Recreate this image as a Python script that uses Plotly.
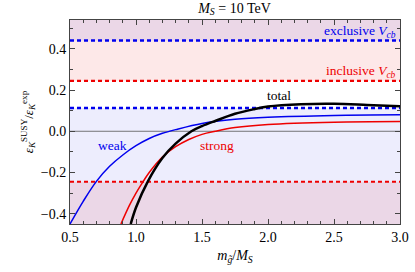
import plotly.graph_objects as go

# Data
weak_x = [0.5, 0.6, 0.7, 0.8, 0.9, 1.0, 1.1, 1.2, 1.3, 1.5, 1.75, 2.0, 2.5, 3.0]
weak_y = [-0.45, -0.34, -0.243, -0.17, -0.115, -0.07, -0.035, -0.01, 0.008, 0.038, 0.058, 0.068, 0.077, 0.08]

strong_x = [0.886, 0.95, 1.0, 1.055, 1.1, 1.2, 1.3, 1.4, 1.5, 1.6, 1.75, 2.0, 2.5, 3.0]
strong_y = [-0.45, -0.36, -0.3, -0.243, -0.2, -0.125, -0.075, -0.04, -0.015, 0.0, 0.018, 0.033, 0.044, 0.047]

total_x = [0.96, 1.0, 1.09, 1.2, 1.3, 1.42, 1.5, 1.6, 1.75, 1.9, 2.0, 2.25, 2.5, 2.75, 3.0]
total_y = [-0.45, -0.37, -0.243, -0.13, -0.06, 0.0, 0.025, 0.05, 0.085, 0.108, 0.12, 0.131, 0.133, 0.128, 0.122]

exclusive_bounds = [0.113, 0.44]
inclusive_bounds = [-0.245, 0.245]

x_range = [0.5, 3.0]
y_range = [-0.45, 0.54]

FONT = "Liberation Serif"
BLUE = "#0000ee"
RED = "#ee0000"

fig = go.Figure()

# shaded excluded regions
shapes = []
blue_fill = "rgba(0,0,230,0.07)"
red_fill = "rgba(230,0,0,0.09)"
for (y0, y1, c) in [
    (y_range[0], inclusive_bounds[0], red_fill),
    (inclusive_bounds[1], y_range[1], red_fill),
    (y_range[0], exclusive_bounds[0], blue_fill),
    (exclusive_bounds[1], y_range[1], blue_fill),
]:
    shapes.append(dict(type="rect", xref="x", yref="y", x0=x_range[0], x1=x_range[1],
                       y0=y0, y1=y1, fillcolor=c, line=dict(width=0), layer="below"))

# zero line
fig.add_trace(go.Scatter(x=x_range, y=[0, 0], mode="lines",
                         line=dict(color="#555555", width=0.8), hoverinfo="skip", showlegend=False))

# bound lines
for b in exclusive_bounds:
    fig.add_trace(go.Scatter(x=x_range, y=[b, b], mode="lines",
                             line=dict(color=BLUE, width=2.5, dash="4px,3px"), showlegend=False))
for b in inclusive_bounds:
    fig.add_trace(go.Scatter(x=x_range, y=[b, b], mode="lines",
                             line=dict(color=RED, width=2.2, dash="4px,3px"), showlegend=False))

fig.add_trace(go.Scatter(x=weak_x, y=weak_y, mode="lines", line=dict(color=BLUE, width=1.5, shape="spline"), showlegend=False))
fig.add_trace(go.Scatter(x=strong_x, y=strong_y, mode="lines", line=dict(color=RED, width=1.5, shape="spline"), showlegend=False))
fig.add_trace(go.Scatter(x=total_x, y=total_y, mode="lines", line=dict(color="black", width=2.5, shape="spline"), showlegend=False))

annotations = [
    dict(x=2.985, y=0.485, text="exclusive <i>V</i><sub><i>cb</i></sub>", xanchor="right", font=dict(color=BLUE)),
    dict(x=2.985, y=0.29, text="inclusive <i>V</i><sub><i>cb</i></sub>", xanchor="right", font=dict(color=RED)),
    dict(x=2.08, y=0.175, text="total", font=dict(color="black")),
    dict(x=0.82, y=-0.068, text="weak", font=dict(color=BLUE)),
    dict(x=1.61, y=-0.068, text="strong", font=dict(color=RED)),
]
for a in annotations:
    a.update(xref="x", yref="y", showarrow=False)
    a["font"].update(family=FONT, size=13.5)

fig.update_layout(
    width=415, height=272,
    margin=dict(l=70, r=15, t=20, b=48, autoexpand=False),
    paper_bgcolor="white", plot_bgcolor="white",
    font=dict(family=FONT, size=14, color="black"),
    title=dict(text="<i>M</i><sub><i>S</i></sub> = 10 TeV", x=0.565, xanchor="center",
               y=0.99, yanchor="top", font=dict(family=FONT, size=14)),
    shapes=shapes,
    annotations=annotations,
)
fig.update_xaxes(range=x_range, dtick=0.5, tickformat=".1f", showgrid=False, zeroline=False,
                 showline=True, linecolor="#444444", linewidth=1, mirror="allticks",
                 ticks="inside", ticklen=5, tickcolor="#444444", automargin=False,
                 minor=dict(dtick=0.1, ticks="inside", ticklen=3, tickcolor="#444444"),
                 title=dict(text="<i>m</i><sub><i>g̃</i></sub>/<i>M</i><sub><i>S</i></sub>", standoff=6,
                            font=dict(size=14)),
                 tickfont=dict(size=14))
fig.update_yaxes(range=y_range, dtick=0.2, tickformat=".1f", showgrid=False, zeroline=False,
                 showline=True, linecolor="#444444", linewidth=1, mirror="allticks",
                 ticks="inside", ticklen=5, tickcolor="#444444", automargin=False,
                 minor=dict(dtick=0.1, ticks="inside", ticklen=3, tickcolor="#444444"),
                 title=dict(text="<i>ε</i><sub><i>K</i></sub><sup>SUSY</sup>/<i>ε</i><sub><i>K</i></sub><sup>exp</sup>", standoff=4,
                            font=dict(size=13)),
                 tickfont=dict(size=14))

fig.write_html("out.html", config={"displayModeBar": False},
               post_script="document.body.style.margin='0';document.body.style.padding='0';")
